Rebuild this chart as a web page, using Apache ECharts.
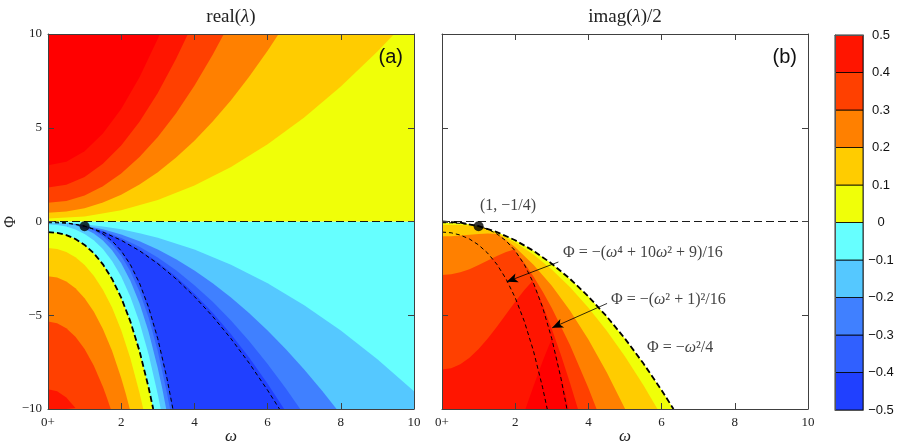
<!DOCTYPE html>
<html><head><meta charset="utf-8">
<script src="https://cdn.jsdelivr.net/npm/echarts@6/dist/echarts.min.js"></script>
<style>html,body{margin:0;padding:0;background:#fff;}#c{width:900px;height:446px;}</style>
</head><body><div id="c"></div>
<script>
// ---------- tick labels ----------
const xTicks = [0, 2, 4, 6, 8, 10];
const xTickLabels = ['0+', '2', '4', '6', '8', '10'];
const yTicks = [-10, -5, 0, 5, 10];
const yTickLabels = ['\u221210', '\u22125', '0', '5', '10'];
const cbLevels = [-0.5, -0.4, -0.3, -0.2, -0.1, 0, 0.1, 0.2, 0.3, 0.4, 0.5];
const cbLabels = ['\u22120.5', '\u22120.4', '\u22120.3', '\u22120.2', '\u22120.1', '0', '0.1', '0.2', '0.3', '0.4', '0.5'];
const bandColors = ['#2040ff', '#3060ff', '#4080ff', '#55c8ff', '#66ffff', '#f0ff08', '#ffcc00', '#ff8000', '#ff4000', '#ff1500'];
const overColor = '#ff0000';

// ---------- boundary curves: [omega, Phi] ----------
const zeroLine = [[0, 0], [10, 0]];
// panel (a): real(lambda), upper half contours 0.1 .. 0.5
const realUp01 = [[0,0.158],[1,0.268],[2,0.598],[3,1.148],[4,1.918],[5,2.908],[6,4.118],[7,5.548],[8,7.198],[9,9.068],[9.459,10]];
const realUp02 = [[0,0.470],[0.5,0.530],[1,0.710],[1.5,1.010],[2,1.430],[2.5,1.970],[3,2.630],[3.5,3.410],[4,4.310],[4.5,5.330],[5,6.470],[5.5,7.730],[6,9.110],[6.301,10]];
const realUp03 = [[0,0.998],[0.5,1.096],[1,1.388],[1.5,1.876],[2,2.558],[2.5,3.436],[3,4.508],[3.5,5.776],[4,7.238],[4.5,8.896],[4.804,10]];
const realUp04 = [[0,1.814],[0.5,1.954],[1,2.374],[1.5,3.074],[2,4.054],[2.5,5.314],[3,6.854],[3.5,8.674],[3.823,10]];
const realUp05 = [[0,3.000],[0.5,3.188],[1,3.750],[1.5,4.688],[2,6.000],[2.5,7.688],[3,9.750],[3.055,10]];
// panel (a): lower half, right-hand (real root) contours -0.1 .. -0.4
const realLoH01 = [[0,-0.058],[0.5,-0.080],[1,-0.148],[1.5,-0.260],[2,-0.418],[2.5,-0.620],[3,-0.868],[4,-1.498],[5,-2.308],[6,-3.298],[7,-4.468],[8,-5.818],[9,-7.348],[10,-9.058]];
const realLoH02 = [[0.529,-0.102],[0.75,-0.148],[1,-0.218],[1.5,-0.418],[2,-0.698],[2.5,-1.058],[3,-1.498],[3.5,-2.018],[4,-2.618],[4.5,-3.298],[5,-4.058],[5.5,-4.898],[6,-5.818],[6.5,-6.818],[7,-7.898],[7.5,-9.058],[7.883,-10]];
const realLoH03 = [[0.825,-0.176],[1,-0.244],[1.5,-0.506],[2,-0.874],[2.5,-1.346],[3,-1.924],[3.5,-2.606],[4,-3.394],[4.5,-4.286],[5,-5.284],[5.5,-6.386],[6,-7.594],[6.5,-8.906],[6.889,-10]];
const realLoH04 = [[0.959,-0.230],[1,-0.250],[1.5,-0.550],[2,-0.970],[2.5,-1.510],[3,-2.170],[3.5,-2.950],[4,-3.850],[4.5,-4.870],[5,-6.010],[5.5,-7.270],[6,-8.650],[6.452,-10]];
// panel (a): lower half, left-hand (complex root) contours -0.4 .. 0.4
const realLoGm04 = [[0.959,-0.230],[1,-0.252],[1.25,-0.423],[1.5,-0.687],[1.75,-1.074],[2,-1.624],[2.25,-2.380],[2.5,-3.392],[2.75,-4.715],[3,-6.412],[3.25,-8.548],[3.393,-10]];
const realLoGm03 = [[0.825,-0.176],[0.9,-0.215],[1,-0.276],[1.25,-0.481],[1.5,-0.786],[1.75,-1.222],[2,-1.828],[2.25,-2.648],[2.5,-3.731],[2.75,-5.133],[3,-6.916],[3.25,-9.146],[3.333,-10]];
const realLoGm02 = [[0.529,-0.102],[0.6,-0.130],[0.75,-0.203],[1,-0.380],[1.25,-0.641],[1.5,-1.015],[1.75,-1.532],[2,-2.232],[2.25,-3.158],[2.5,-4.360],[2.75,-5.893],[3,-7.820],[3.125,-8.951],[3.230,-10]];
const realLoGm01 = [[0,-0.152],[0.25,-0.180],[0.5,-0.267],[0.75,-0.422],[1,-0.660],[1.25,-1.000],[1.5,-1.470],[1.75,-2.101],[2,-2.932],[2.25,-4.007],[2.5,-5.375],[2.75,-7.092],[3,-9.220],[3.080,-10]];
const curve1 = [[0,-0.563],[0.25,-0.602],[0.5,-0.723],[0.75,-0.934],[1,-1.250],[1.25,-1.692],[1.5,-2.285],[1.75,-3.063],[2,-4.063],[2.25,-5.328],[2.5,-6.910],[2.75,-8.864],[2.875,-10]];
const realLoG01 = [[0,-1.416],[0.25,-1.469],[0.5,-1.631],[0.75,-1.911],[1,-2.324],[1.25,-2.889],[1.5,-3.634],[1.75,-4.590],[2,-5.796],[2.25,-7.296],[2.5,-9.139],[2.602,-10]];
const realLoG02 = [[0,-2.924],[0.25,-2.993],[0.5,-3.204],[0.75,-3.565],[1,-4.092],[1.25,-4.803],[1.5,-5.727],[1.75,-6.894],[2,-8.344],[2.125,-9.188],[2.235,-10]];
const realLoG03 = [[0,-5.336],[0.25,-5.424],[0.5,-5.691],[0.75,-6.146],[1,-6.804],[1.25,-7.684],[1.5,-8.814],[1.6,-9.343],[1.714,-10]];
const realLoG04 = [[0,-8.940],[0.25,-9.049],[0.5,-9.380],[0.75,-9.941],[0.771,-10]];
const curve2 = [[0,-0.0625],[0.25,-0.071],[0.5,-0.098],[0.75,-0.153],[1,-0.250],[1.25,-0.410],[1.5,-0.660],[1.75,-1.032],[2,-1.563],[2.25,-2.297],[2.5,-3.285],[2.75,-4.582],[3,-6.250],[3.25,-8.356],[3.413,-10]];
const para = [[0,0],[0.5,-0.063],[1,-0.250],[1.5,-0.563],[2,-1.000],[2.5,-1.563],[3,-2.250],[3.5,-3.063],[4,-4.000],[4.5,-5.063],[5,-6.250],[5.5,-7.563],[6,-9.000],[6.325,-10]];
// panel (b): imag(lambda)/2 contours 0 .. 0.5
const imagBase = [[0,-0.0625],[0.5,-0.098],[0.75,-0.153],[1,-0.250],[1.5,-0.563],[2,-1.000],[2.5,-1.563],[3,-2.250],[3.5,-3.063],[4,-4.000],[4.5,-5.063],[5,-6.250],[5.5,-7.563],[6,-9.000],[6.325,-10]];
const imag01 = [[0,-0.168],[0.5,-0.183],[0.75,-0.213],[1,-0.276],[1.149,-0.336],[1.5,-0.606],[2,-1.114],[2.5,-1.766],[3,-2.564],[3.5,-3.506],[4,-4.594],[4.5,-5.826],[5,-7.204],[5.5,-8.726],[5.886,-10]];
const imag02 = [[0,-0.792],[0.25,-0.780],[0.5,-0.747],[0.75,-0.702],[1,-0.660],[1.25,-0.640],[1.4,-0.650],[1.51,-0.672],[1.75,-0.993],[2,-1.378],[2.5,-2.300],[3,-3.428],[3.5,-4.760],[4,-6.298],[4.5,-8.040],[5.003,-10]];
const imag03 = [[0,-2.856],[0.25,-2.819],[0.5,-2.711],[0.75,-2.541],[1,-2.324],[1.25,-2.079],[1.5,-1.834],[1.75,-1.620],[1.970,-1.488],[2.25,-2.210],[2.5,-2.934],[2.75,-3.735],[3,-4.612],[3.5,-6.594],[4,-8.882],[4.223,-10]];
const imag04 = [[0,-7.896],[0.25,-7.824],[0.5,-7.611],[0.75,-7.266],[1,-6.804],[1.25,-6.244],[1.5,-5.614],[1.75,-4.945],[2,-4.276],[2.25,-3.651],[2.474,-3.168],[2.75,-4.452],[3,-5.732],[3.25,-7.122],[3.5,-8.624],[3.714,-10]];
const imag05 = [[2.281,-10],[2.4,-9.336],[2.5,-8.785],[2.625,-8.110],[2.75,-7.457],[2.875,-6.834],[3,-6.250],[3.125,-7.207],[3.25,-8.203],[3.375,-9.238],[3.464,-10]];
const critPoint = [[1, -0.25]];
// annotation arrows in panel (b): [from, to]
const arrowA = [[3.18, -2.16], [1.77, -3.21]];
const arrowB = [[4.51, -4.37], [3.01, -5.67]];

// ---------- build ----------
const SERIF = '"Liberation Serif", "DejaVu Serif", serif';
const SANS = '"Liberation Sans", Arial, sans-serif';
const AXC = '#404040';
let zc = 1;
function fill(data, color, origin, p) {
  return {type: 'line', xAxisIndex: p * 2, yAxisIndex: p * 2, data: data, symbol: 'none', showSymbol: false,
    lineStyle: {width: 0, opacity: 0}, areaStyle: {color: color, opacity: 1, origin: origin},
    silent: true, animation: false, emphasis: {disabled: true}, z: zc++};
}
function dash(data, p, w, pattern) {
  return {type: 'line', xAxisIndex: p * 2, yAxisIndex: p * 2, data: data, symbol: 'none', showSymbol: false,
    lineStyle: {width: w, color: '#000', type: pattern}, silent: true, animation: false,
    emphasis: {disabled: true}, z: 60};
}
const C = bandColors;
const series = [
  fill(zeroLine, C[4], 'start', 0),
  fill(zeroLine, C[5], 'end', 0),
  fill(realUp01, C[6], 'end', 0),
  fill(realUp02, C[7], 'end', 0),
  fill(realUp03, C[8], 'end', 0),
  fill(realUp04, C[9], 'end', 0),
  fill(realUp05, overColor, 'end', 0),
  fill(realLoH01, C[3], 'start', 0),
  fill(realLoH02, C[2], 'start', 0),
  fill(realLoH03, C[1], 'start', 0),
  fill(realLoH04, C[0], 'start', 0),
  fill(realLoGm04, C[1], 'start', 0),
  fill(realLoGm03, C[2], 'start', 0),
  fill(realLoGm02, C[3], 'start', 0),
  fill(realLoGm01, C[4], 'start', 0),
  fill(curve1, C[5], 'start', 0),
  fill(realLoG01, C[6], 'start', 0),
  fill(realLoG02, C[7], 'start', 0),
  fill(realLoG03, C[8], 'start', 0),
  fill(realLoG04, C[9], 'start', 0),
  fill(imagBase, C[5], 'start', 1),
  fill(imag01, C[6], 'start', 1),
  fill(imag02, C[7], 'start', 1),
  fill(imag03, C[8], 'start', 1),
  fill(imag04, C[9], 'start', 1),
  fill(imag05, overColor, 'start', 1),
  dash(zeroLine, 0, 0.9, [8, 4]),
  dash(curve1, 0, 1.8, [6, 3]),
  dash(curve2, 0, 1, [4, 3]),
  dash(para, 0, 1, [4, 3]),
  dash(zeroLine, 1, 0.9, [8, 4]),
  dash(curve1, 1, 1, [4, 3]),
  dash(curve2, 1, 1, [4, 3]),
  Object.assign(dash(para, 1, 1.8, [6, 3]), {
    markLine: {silent: true, animation: false, z: 90, symbol: ['none', 'arrow'], symbolSize: [7, 11],
      lineStyle: {color: '#000', width: 0.8, type: 'solid', opacity: 1}, label: {show: false},
      emphasis: {disabled: true},
      data: [[{coord: arrowA[0]}, {coord: arrowA[1]}], [{coord: arrowB[0]}, {coord: arrowB[1]}]]}
  }),
  {type: 'scatter', xAxisIndex: 0, yAxisIndex: 0, data: critPoint, symbolSize: 10, itemStyle: {color: '#000'}, silent: true, z: 70},
  {type: 'scatter', xAxisIndex: 2, yAxisIndex: 2, data: critPoint, symbolSize: 10, itemStyle: {color: '#000'}, silent: true, z: 70},
  {type: 'custom', xAxisIndex: 4, yAxisIndex: 4, silent: true, z: 5,
    data: bandColors.map(function (c, i) { return [cbLevels[i], cbLevels[i + 1], i]; }),
    renderItem: function (params, api) {
      const p0 = api.coord([0, api.value(1)]);
      const p1 = api.coord([1, api.value(0)]);
      return {type: 'rect', shape: {x: p0[0], y: p0[1], width: p1[0] - p0[0], height: p1[1] - p0[1]},
        style: {fill: bandColors[api.value(2)], stroke: '#000', lineWidth: 0.8}};
    }}
];

function xAx(grid, pos, labels) {
  return {gridIndex: grid, type: 'value', min: 0, max: 10, interval: 2, position: pos, z: 100,
    axisLine: {show: true, onZero: false, lineStyle: {color: AXC, width: 1}},
    axisTick: {show: true, inside: true, length: 6, lineStyle: {color: AXC}},
    splitLine: {show: false},
    axisLabel: {show: labels, margin: 7, fontFamily: SERIF, fontSize: 13, color: '#222', showMinLabel: true, showMaxLabel: true,
      formatter: function (v) { const i = xTicks.indexOf(v); return i >= 0 ? xTickLabels[i] : ''; }}};
}
function yAx(grid, pos, labels) {
  return {gridIndex: grid, type: 'value', min: -10, max: 10, interval: 5, position: pos, z: 100,
    axisLine: {show: true, onZero: false, lineStyle: {color: AXC, width: 1}},
    axisTick: {show: true, inside: true, length: 6, lineStyle: {color: AXC}},
    splitLine: {show: false},
    axisLabel: {show: labels, margin: 6, fontFamily: SERIF, fontSize: 13, color: '#222', showMinLabel: true, showMaxLabel: true,
      formatter: function (v) { const i = yTicks.indexOf(v); return i >= 0 ? yTickLabels[i] : ''; }}};
}
const cbX = function (pos) {
  return {gridIndex: 2, type: 'value', min: 0, max: 1, position: pos, z: 100,
    axisLine: {show: true, onZero: false, lineStyle: {color: '#555', width: 1}},
    axisTick: {show: false}, axisLabel: {show: false}, splitLine: {show: false}};
};
const cbY = function (pos, labels) {
  return {gridIndex: 2, type: 'value', min: -0.5, max: 0.5, interval: 0.1, position: pos, z: 100,
    axisLine: {show: true, onZero: false, lineStyle: {color: '#555', width: 1}},
    axisTick: {show: false}, splitLine: {show: false},
    axisLabel: {show: labels, margin: 18, align: 'center', fontFamily: SANS, fontSize: 13, color: '#111',
      showMinLabel: true, showMaxLabel: true,
      formatter: function (v) { return cbLabels[Math.round((v + 0.5) * 10)]; }}};
};

function txt(x, y, text, font, opts) {
  const st = Object.assign({text: text, font: font, fill: '#222', textAlign: 'center', textVerticalAlign: 'middle',
    align: 'center', verticalAlign: 'middle'}, opts || {});
  return {type: 'text', x: x, y: y, z: 200, style: st};
}
const richI = function (size, color) {
  return {i: {fontStyle: 'italic', fontFamily: SERIF, fontSize: size, fill: color, color: color},
          n: {fontFamily: SERIF, fontSize: size, fill: color, color: color}};
};
const ann = '#444';

const option = {
  animation: false,
  backgroundColor: '#fff',
  grid: [
    {left: 48, top: 34, width: 366, height: 375},
    {left: 442, top: 34, width: 366, height: 375},
    {left: 835, top: 35, width: 28, height: 375}
  ],
  xAxis: [xAx(0, 'bottom', true), xAx(0, 'top', false), xAx(1, 'bottom', true), xAx(1, 'top', false), cbX('bottom'), cbX('top')],
  yAxis: [yAx(0, 'left', true), yAx(0, 'right', false), yAx(1, 'left', false), yAx(1, 'right', false), cbY('left', false), cbY('right', true)],
  series: series,
  graphic: [
    txt(231, 17, '{n|real(}{i|\u03bb}{n|)}', '19px ' + SERIF, {rich: richI(19, '#222')}),
    txt(625, 17, '{n|imag(}{i|\u03bb}{n|)/2}', '19px ' + SERIF, {rich: richI(19, '#222')}),
    Object.assign(txt(11, 222, '\u03a6', '16px ' + SERIF), {rotation: Math.PI / 2}),
    txt(231, 437, '{i|\u03c9}', '17px ' + SERIF, {rich: richI(17, '#222')}),
    txt(625, 437, '{i|\u03c9}', '17px ' + SERIF, {rich: richI(17, '#222')}),
    txt(403, 57, '(a)', '20px ' + SANS, {textAlign: 'right', align: 'right', fill: '#111'}),
    txt(797, 57, '(b)', '20px ' + SANS, {textAlign: 'right', align: 'right', fill: '#111'}),
    txt(508, 206, '{n|(1, \u22121/4)}', '16px ' + SERIF, {rich: richI(16, ann)}),
    txt(563, 253, '{n|\u03a6 = \u2212(}{i|\u03c9}{n|\u2074 + 10}{i|\u03c9}{n|\u00b2 + 9)/16}', '16px ' + SERIF,
        {textAlign: 'left', align: 'left', rich: richI(16, ann)}),
    txt(611, 300, '{n|\u03a6 = \u2212(}{i|\u03c9}{n|\u00b2 + 1)\u00b2/16}', '16px ' + SERIF,
        {textAlign: 'left', align: 'left', rich: richI(16, ann)}),
    txt(647, 348, '{n|\u03a6 = \u2212}{i|\u03c9}{n|\u00b2/4}', '16px ' + SERIF,
        {textAlign: 'left', align: 'left', rich: richI(16, ann)})
  ]
};
const chart = echarts.init(document.getElementById('c'), null, {renderer: 'canvas'});
chart.setOption(option);
</script></body></html>
